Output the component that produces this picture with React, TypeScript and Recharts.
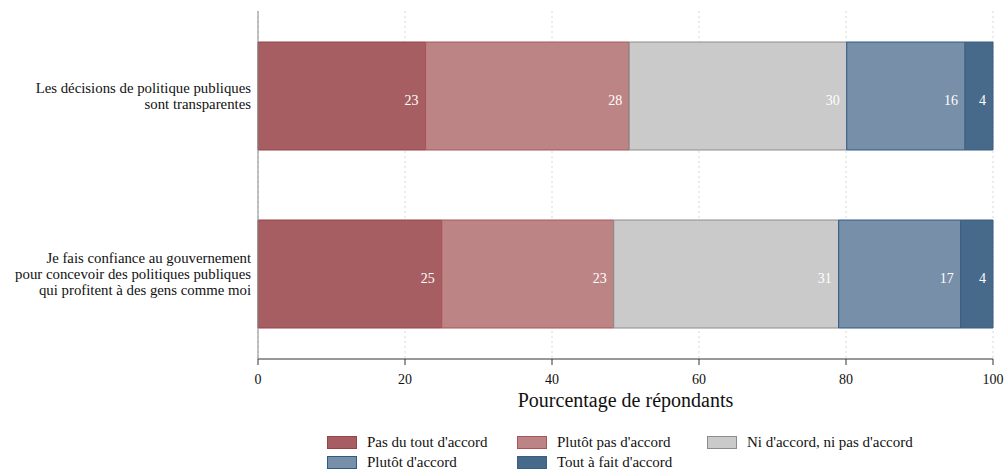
import React from 'react';
import {
  BarChart, Bar, XAxis, YAxis, CartesianGrid, LabelList,
} from 'recharts';

const questions = [
  'Les décisions de politique publiques\nsont transparentes',
  'Je fais confiance au gouvernement \npour concevoir des politiques publiques\nqui profitent à des gens comme moi',
];

const pasDuTout = [22.8, 25.0];
const plutotPas = [27.7, 23.4];
const ni = [29.6, 30.6];
const plutot = [16.1, 16.6];
const toutAFait = [3.8, 4.4];

const xTicks = [0, 20, 40, 60, 80, 100];

const series = [
  { key: 'pasDuTout', name: "Pas du tout d'accord", fill: '#a65e62', stroke: '#9a4047' },
  { key: 'plutotPas', name: "Plutôt pas d'accord", fill: '#bd8486', stroke: '#a9545b' },
  { key: 'ni', name: "Ni d'accord, ni pas d'accord", fill: '#cacaca', stroke: '#8c8c8c' },
  { key: 'plutot', name: "Plutôt d'accord", fill: '#778fa8', stroke: '#2f5a82' },
  { key: 'toutAFait', name: 'Tout à fait d\'accord', fill: '#476a8b', stroke: '#395f82' },
];

const data = questions.map((q, i) => ({
  q,
  pasDuTout: pasDuTout[i],
  plutotPas: plutotPas[i],
  ni: ni[i],
  plutot: plutot[i],
  toutAFait: toutAFait[i],
}));

const FONT = '"Liberation Serif", "DejaVu Serif", serif';

const QuestionTick = (props: any) => {
  const { y, payload } = props;
  const lines: string[] = String(payload.value).split('\n');
  const lh = 16;
  const start = -((lines.length - 1) * lh) / 2;
  // right edge of the labels sits just left of the axis line
  return (
    <g transform={`translate(251,${y})`}>
      {lines.map((l, i) => (
        <text
          key={i}
          x={0}
          y={start + i * lh}
          dy="0.35em"
          textAnchor="end"
          fontFamily={FONT}
          fontSize={14.8}
          fill="#111"
        >
          {l.trim()}
        </text>
      ))}
    </g>
  );
};

export default function App() {
  return (
    <div style={{ position: 'absolute', left: 0, top: 0, width: 1004, height: 471, background: '#fff' }}>
      <BarChart
        width={1004}
        height={471}
        data={data}
        layout="vertical"
        margin={{ top: 11, right: 11, bottom: 54, left: 0 }}
        barSize={108}
      >
        <CartesianGrid horizontal={false} stroke="#d8d8d8" strokeDasharray="2 3" />
        <XAxis
          type="number"
          domain={[0, 100]}
          ticks={xTicks}
          height={58}
          stroke="#333"
          tickSize={6}
          tickMargin={9}
          tick={{ fill: '#111', fontFamily: FONT, fontSize: 14 }}
          label={{
            value: 'Pourcentage de répondants',
            position: 'insideBottom',
            offset: 10,
            fill: '#111',
            fontFamily: FONT,
            fontSize: 20,
          }}
        />
        <YAxis
          type="category"
          dataKey="q"
          width={258}
          stroke="#888"
          tickLine={false}
          tick={<QuestionTick />}
          interval={0}
          padding={{ top: -4, bottom: -4 }}
        />
        {series.map((s) => (
          <Bar
            key={s.key}
            dataKey={s.key}
            name={s.name}
            stackId="a"
            fill={s.fill}
            stroke={s.stroke}
            strokeWidth={1}
            isAnimationActive={false}
          >
            <LabelList
              dataKey={s.key}
              position="insideRight"
              offset={7}
              formatter={(v: any) => Math.round(Number(v))}
              style={{ fill: '#fff', fontFamily: FONT, fontSize: 14 }}
              dy={4}
            />
          </Bar>
        ))}
      </BarChart>
      <div
        style={{
          position: 'absolute',
          left: 327,
          top: 433,
          display: 'grid',
          gridTemplateColumns: '190px 190px 240px',
          rowGap: 2,
          fontFamily: FONT,
          fontSize: 15,
          color: '#111',
        }}
      >
        {series.map((s) => (
          <div key={s.key} style={{ display: 'flex', alignItems: 'center', height: 18 }}>
            <span
              style={{
                display: 'inline-block',
                width: 28,
                height: 11,
                background: s.fill,
                border: `1px solid ${s.stroke}`,
                marginRight: 10,
              }}
            />
            <span>{s.name}</span>
          </div>
        ))}
      </div>
    </div>
  );
}
